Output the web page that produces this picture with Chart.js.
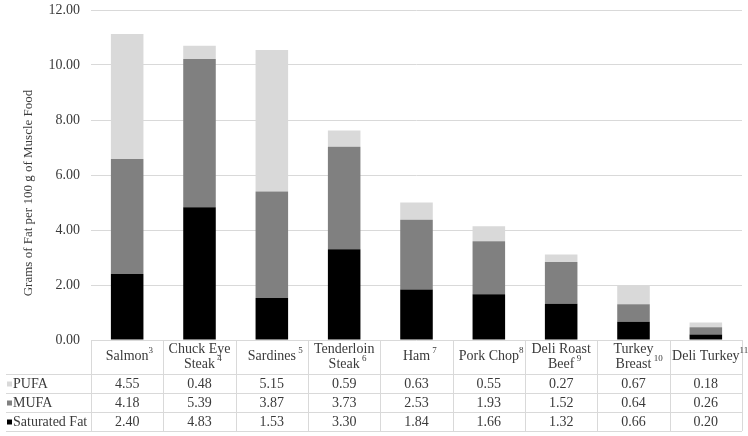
<!DOCTYPE html>
<html>
<head>
<meta charset="utf-8">
<script src="https://cdn.jsdelivr.net/npm/chart.js@4/dist/chart.umd.min.js"></script>
<style>
html,body{margin:0;padding:0;background:#fff;}
#wrap{width:748px;height:436px;position:relative;}
</style>
</head>
<body>
<div id="wrap"><canvas id="c" width="748" height="436"></canvas></div>
<script>
const categories = ['Salmon','Chuck Eye Steak','Sardines','Tenderloin Steak','Ham','Pork Chop','Deli Roast Beef','Turkey Breast','Deli Turkey'];
const headerLines = [['Salmon'],['Chuck Eye','Steak'],['Sardines'],['Tenderloin','Steak'],['Ham'],['Pork Chop'],['Deli Roast','Beef'],['Turkey','Breast'],['Deli Turkey']];
const superscripts = ['3',' 4',' 5',' 6',' 7','8',' 9',' 10','11'];
const pufa = [4.55,0.48,5.15,0.59,0.63,0.55,0.27,0.67,0.18];
const mufa = [4.18,5.39,3.87,3.73,2.53,1.93,1.52,0.64,0.26];
const saturated = [2.40,4.83,1.53,3.30,1.84,1.66,1.32,0.66,0.20];
const yTicks = [0,2,4,6,8,10,12];
const yTitle = 'Grams of Fat per 100 g of Muscle Food';

const FONT = "'Liberation Serif','Times New Roman',serif";
const TXT = '#3a3a3a';
const LINE = '#d9d9d9';

const tablePlugin = {
  id: 'dataTable',
  afterDraw(chart) {
    const ctx = chart.ctx;
    const x = chart.scales.x;
    const ca = chart.chartArea;
    const n = categories.length;
    const colW = (ca.right - ca.left) / n;
    const top = ca.bottom;
    const rowYs = [top + 34, top + 53, top + 72, top + 91];
    ctx.save();
    ctx.strokeStyle = LINE;
    ctx.lineWidth = 1;
    ctx.beginPath();
    for (let i = 0; i <= n; i++) {
      const px = Math.round(ca.left + i * colW) + 0.5;
      ctx.moveTo(px, top);
      ctx.lineTo(px, rowYs[3]);
    }
    rowYs.forEach(y => {
      ctx.moveTo(6, y + 0.5);
      ctx.lineTo(ca.right, y + 0.5);
    });
    ctx.stroke();
    ctx.fillStyle = TXT;
    ctx.textBaseline = 'middle';
    for (let i = 0; i < n; i++) {
      const cx = x.getPixelForValue(i);
      const lines = headerLines[i];
      const ys = lines.length === 1 ? [top + 16] : [top + 9, top + 24];
      lines.forEach((ln, j) => {
        ctx.font = '14px ' + FONT;
        ctx.textAlign = 'center';
        ctx.fillText(ln, cx, ys[j]);
        if (j === lines.length - 1) {
          const w = ctx.measureText(ln).width;
          ctx.font = '9px ' + FONT;
          ctx.textAlign = 'left';
          ctx.fillText(superscripts[i], cx + w / 2, ys[j] - 5);
        }
      });
    }
    const rows = [
      {label: 'PUFA', color: '#d9d9d9', data: pufa},
      {label: 'MUFA', color: '#808080', data: mufa},
      {label: 'Saturated Fat', color: '#000000', data: saturated}
    ];
    rows.forEach((r, k) => {
      const cy = (rowYs[k] + rowYs[k + 1]) / 2 + 1;
      ctx.fillStyle = r.color;
      ctx.fillRect(7, cy - 3, 5, 5);
      ctx.fillStyle = TXT;
      ctx.font = '14px ' + FONT;
      ctx.textAlign = 'left';
      ctx.fillText(r.label, 13, cy);
      ctx.textAlign = 'center';
      r.data.forEach((v, i) => {
        ctx.fillText(v.toFixed(2), x.getPixelForValue(i), cy);
      });
    });
    ctx.translate(29, 193);
    ctx.rotate(-Math.PI / 2);
    ctx.font = '13px ' + FONT;
    ctx.textAlign = 'center';
    ctx.fillText(yTitle, 0, 0);
    ctx.restore();
  }
};

new Chart(document.getElementById('c'), {
  type: 'bar',
  data: {
    labels: categories,
    datasets: [
      {label: 'Saturated Fat', data: saturated, backgroundColor: '#000000'},
      {label: 'MUFA', data: mufa, backgroundColor: '#808080'},
      {label: 'PUFA', data: pufa, backgroundColor: '#d9d9d9'}
    ]
  },
  options: {
    responsive: false,
    animation: false,
    devicePixelRatio: 1,
    datasets: {bar: {categoryPercentage: 1, barPercentage: 0.45}},
    layout: {padding: {top: 10, bottom: 96, left: 0, right: 6}},
    plugins: {legend: {display: false}, tooltip: {enabled: false}},
    scales: {
      x: {
        stacked: true,
        grid: {display: false, drawTicks: false},
        border: {display: false},
        ticks: {display: false}
      },
      y: {
        stacked: true,
        min: 0, max: 12,
        afterFit(s) { s.width = 91; s.paddingTop = 0; s.paddingBottom = 0; },
        afterBuildTicks(s) { s.ticks = yTicks.map(v => ({value: v})); },
        grid: {color: LINE, drawTicks: false},
        border: {display: false},
        ticks: {
          padding: 11,
          color: TXT,
          font: {family: FONT, size: 14},
          callback: v => Number(v).toFixed(2)
        }
      }
    }
  },
  plugins: [tablePlugin]
});
</script>
</body>
</html>
